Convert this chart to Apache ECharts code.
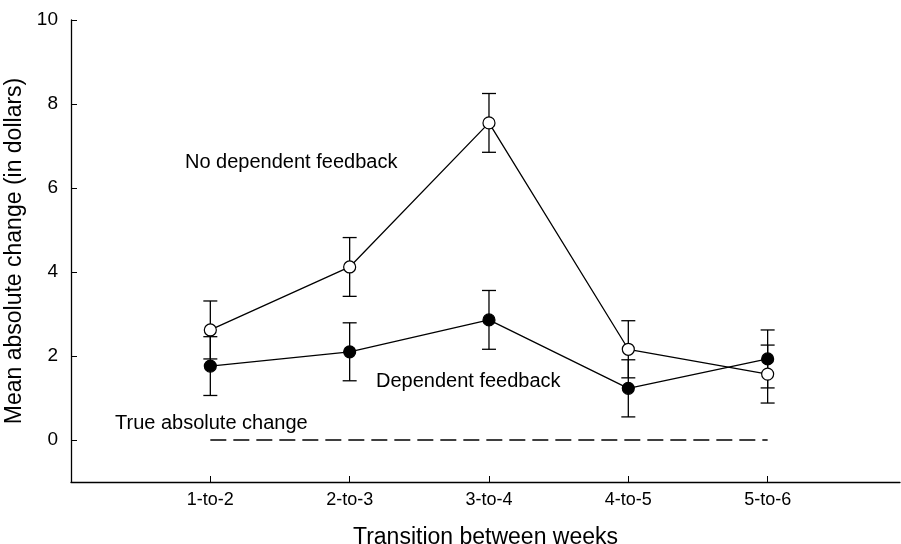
<!DOCTYPE html>
<html>
<head>
<meta charset="utf-8">
<script src="https://cdn.jsdelivr.net/npm/echarts@6/dist/echarts.min.js"></script>
<style>html,body{margin:0;padding:0;background:#fff;overflow:hidden}#c{width:901px;height:544px}</style>
</head>
<body>
<div id="c"></div>
<script>
var categories = ['1-to-2', '2-to-3', '3-to-4', '4-to-5', '5-to-6'];
var noDepMean = [2.62, 4.12, 7.55, 2.16, 1.57];
var noDepErr = [0.69, 0.70, 0.70, 0.68, 0.69];
var depMean = [1.76, 2.10, 2.86, 1.23, 1.93];
var depErr = [0.70, 0.69, 0.70, 0.68, 0.69];
var trueChange = [0, 0, 0, 0, 0];
var yTicks = [0, 2, 4, 6, 8, 10];

var FONT = 'Liberation Sans, Arial, Helvetica, sans-serif';

function pts(vals) { return vals.map(function (v, i) { return [i + 1, v]; }); }
function errData(m, e) { return m.map(function (v, i) { return [i + 1, v - e[i], v + e[i]]; }); }

function errRender(params, api) {
  var x = api.value(0);
  var lo = api.coord([x, api.value(1)]);
  var hi = api.coord([x, api.value(2)]);
  var hw = 7;
  var st = { stroke: '#000', lineWidth: 1.3 };
  return {
    type: 'group',
    children: [
      { type: 'line', shape: { x1: lo[0], y1: lo[1], x2: hi[0], y2: hi[1] }, style: st },
      { type: 'line', shape: { x1: lo[0] - hw, y1: lo[1], x2: lo[0] + hw, y2: lo[1] }, style: st },
      { type: 'line', shape: { x1: hi[0] - hw, y1: hi[1], x2: hi[0] + hw, y2: hi[1] }, style: st }
    ]
  };
}

var chart = echarts.init(document.getElementById('c'), null, { renderer: 'canvas' });
chart.setOption({
  backgroundColor: '#fff',
  animation: false,
  grid: { left: 71, top: 20, bottom: 62, right: 1, outerBoundsMode: 'none', containLabel: false },
  xAxis: {
    type: 'value', min: 0, max: 5.95, interval: 1,
    name: 'Transition between weeks', nameLocation: 'middle', nameGap: 44,
    nameTextStyle: { color: '#000', fontSize: 23, fontFamily: FONT },
    axisLine: { onZero: false, lineStyle: { color: '#000', width: 1.3 } },
    axisTick: { inside: true, length: 6, lineStyle: { color: '#000', width: 1 } },
    axisLabel: {
      color: '#000', fontSize: 18, fontFamily: FONT, margin: 9, showMaxLabel: false,
      formatter: function (v) { return categories[v - 1] || ''; }
    },
    splitLine: { show: false }
  },
  yAxis: {
    type: 'value', min: -1, max: 10,
    name: 'Mean absolute change (in dollars)', nameLocation: 'middle', nameGap: 39,
    nameTextStyle: { color: '#000', fontSize: 23, fontFamily: FONT },
    axisLine: { lineStyle: { color: '#000', width: 1.3 } },
    axisTick: { inside: true, length: 6, customValues: yTicks, lineStyle: { color: '#000', width: 1 } },
    axisLabel: { color: '#000', fontSize: 19, fontFamily: FONT, margin: 13, customValues: yTicks },
    splitLine: { show: false }
  },
  series: [
    {
      type: 'line', data: pts(trueChange), symbol: 'none', silent: true,
      lineStyle: { color: '#000', width: 1.6, type: [16, 7] }, z: 1
    },
    { type: 'custom', data: errData(noDepMean, noDepErr), renderItem: errRender, z: 2 },
    { type: 'custom', data: errData(depMean, depErr), renderItem: errRender, z: 2 },
    {
      type: 'line', data: pts(noDepMean), symbol: 'circle', symbolSize: 12,
      lineStyle: { color: '#000', width: 1.3 },
      itemStyle: { color: '#fff', borderColor: '#000', borderWidth: 1.2 }, z: 3
    },
    {
      type: 'line', data: pts(depMean), symbol: 'circle', symbolSize: 12,
      lineStyle: { color: '#000', width: 1.3 },
      itemStyle: { color: '#000', borderColor: '#000', borderWidth: 1.2 }, z: 4
    }
  ],
  graphic: [
    { type: 'text', left: 185, top: 152, style: { text: 'No dependent feedback', fill: '#000', font: '20px ' + FONT } },
    { type: 'text', left: 376, top: 371, style: { text: 'Dependent feedback', fill: '#000', font: '20px ' + FONT } },
    { type: 'text', left: 115, top: 413, style: { text: 'True absolute change', fill: '#000', font: '20px ' + FONT } }
  ]
});
</script>
</body>
</html>
